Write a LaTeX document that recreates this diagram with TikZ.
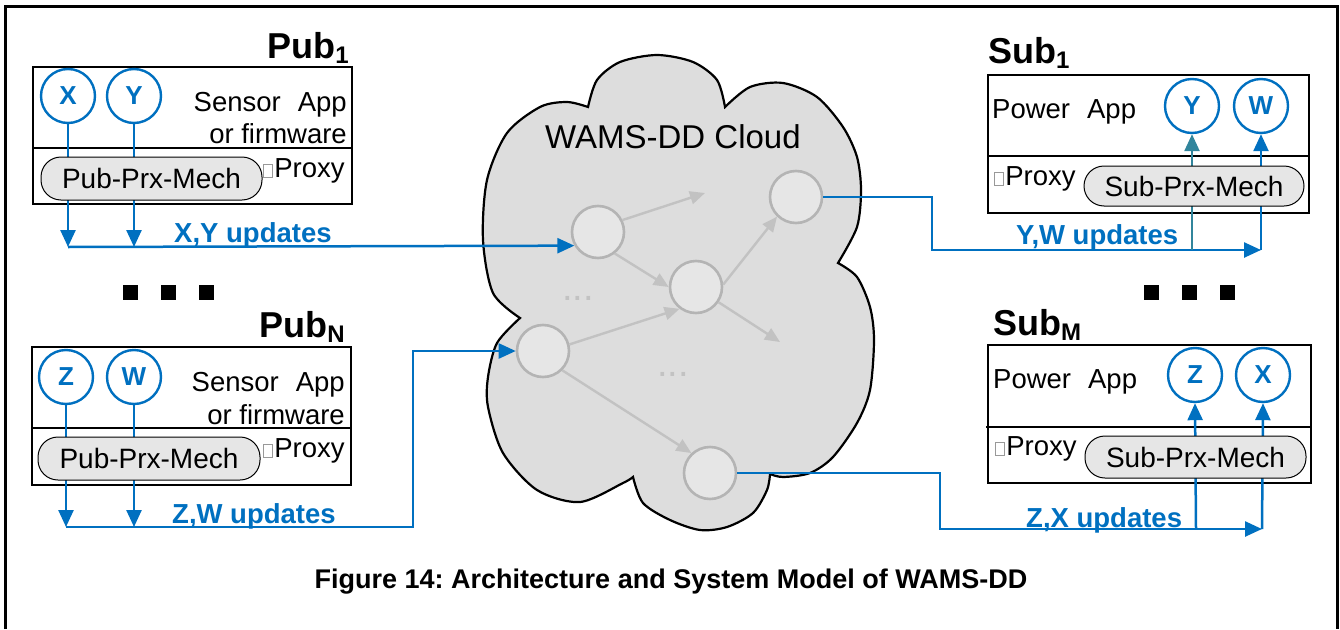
\documentclass[tikz,border=0pt]{standalone}
\usepackage{fontspec}
\setmainfont{Liberation Sans}
\usetikzlibrary{arrows.meta}
\frenchspacing

\definecolor{wblue}{HTML}{0070C0}
\definecolor{wteal}{HTML}{31859C}
\definecolor{cloudfill}{HTML}{DDDDDD}
\definecolor{nodefill}{HTML}{E6E6E6}
\definecolor{nodeline}{HTML}{B4B4B4}
\definecolor{edgegray}{HTML}{C2C2C2}
\definecolor{pillfill}{HTML}{E6E6E6}

\newcommand\fsz[1]{\fontsize{#1}{#1}\selectfont}
\newcommand\glyphbox{\textcolor{black!40}{\fboxsep=0pt\fboxrule=0.8pt\fbox{\rule{0pt}{12pt}\hspace{8pt}}}\hspace{1.5pt}}

\tikzset{
  frame/.style={line width=2.5pt},
  boxline/.style={draw=black, line width=2pt},
  pill/.style={draw=black, line width=1pt, fill=pillfill, rounded corners=20pt,
    inner sep=0pt, font=\fsz{28}},
  var/.style={circle, draw=wblue, line width=2.4pt, fill=white, minimum size=54pt,
    inner sep=0pt, font=\bfseries\fsz{26}, text=wblue},
  cnode/.style={circle, draw=nodeline, line width=2.6pt, fill=nodefill,
    minimum size=52pt, inner sep=0pt},
  garrow/.style={draw=edgegray, line width=2.4pt, -{Triangle[length=15pt,width=13pt]}},
  blueflow/.style={draw=wblue, line width=2.5pt},
  tealflow/.style={draw=wteal, line width=2.5pt},
  btip/.style={-{Triangle[length=17pt,width=15pt]}},
  txt/.style={font=\fsz{27.5}, inner sep=0pt},
  upd/.style={font=\bfseries\fsz{27.5}, text=wblue, inner sep=0pt},
  ttl/.style={font=\bfseries\fsz{36}, inner sep=0pt},
  dotsgray/.style={font=\fsz{38}, text=edgegray, inner sep=0pt},
  sq/.style={fill=black}
}

\begin{document}
\begin{tikzpicture}[x=1pt,y=-1pt]
\useasboundingbox (0,0) rectangle (1340,629);

% outer frame
\draw[frame] (5.5,629) -- (5.5,6.5) -- (1337.5,6.5) -- (1337.5,629);

% ---------------- cloud ----------------
\draw[fill=cloudfill, line width=2.2pt, line join=miter]
  plot[smooth] coordinates {(588,107) (597,80) (620,62) (657,55) (693,62) (717,80) (725,107)}
  -- plot[smooth] coordinates {(725,107) (750,87) (783,83) (817,97) (843,127) (857,157) (861,190) (857,227) (838,263)}
  -- plot[smooth] coordinates {(838,263) (857,277) (870,307) (874,340) (870,390) (857,423) (833,457) (810,473) (783,477) (770,474)}
  -- plot[smooth] coordinates {(770,474) (767,490) (753,513) (727,527) (700,530) (670,520) (643,503) (633,477)}
  -- plot[smooth] coordinates {(633,477) (623,483) (580,502) (537,490) (503,453) (488,407) (488,377) (497,343) (520,318)}
  -- plot[smooth] coordinates {(520,318) (493,293) (483,240) (487,180) (507,133) (540,107) (567,102) (588,107)}
  -- cycle;

\node[anchor=base west, font=\fsz{33}, inner sep=0pt] (cloudlabel) at (545,148) {WAMS-DD Cloud};

\node[cnode] (n1) at (598,232) {};
\node[cnode] (n2) at (796,197) {};
\node[cnode] (n3) at (696,287) {};
\node[cnode] (n4) at (543,351) {};
\node[cnode] (n5) at (710,473) {};
\coordinate (e1) at (705,193);
\coordinate (e2) at (780,342);

\draw[garrow] (n1.26) -- (e1);
\draw[garrow] (n1.-52) -- (n3.180);
\draw[garrow] (n3.5) -- (n2.226);
\draw[garrow] (n3.-34) -- (e2);
\draw[garrow] (n4.14) -- (n3.233);
\draw[garrow] (n4.-45) -- (n5.133);

\node[dotsgray, anchor=base] (d1) at (578,300) {...};
\node[dotsgray, anchor=base] (d2) at (673,376) {...};

% ---------------- Pub 1 ----------------
\draw[boxline] (33,67) rectangle (352,204);
\draw[boxline] (33,148) -- (352,148);
\node[var] (X1) at (68,96) {X};
\node[var] (Y1) at (134,96) {Y};
\coordinate (p1a) at (68,247);
\coordinate (p1b) at (134,247);
\draw[blueflow, btip] (X1.south) -- (p1a);
\draw[blueflow, btip] (Y1.south) -- (p1b);
\draw[blueflow, btip] (p1a) -- (n1.210);
\node[pill, minimum width=221pt, minimum height=43pt] (pm1) at (151.5,178.5) {Pub-Prx-Mech};
\node[txt, anchor=base east] (sa1) at (347,111) {Sensor\hspace{17pt}App};
\node[txt, anchor=base east] (fw1) at (347,143) {or firmware};
\node[txt, anchor=base west] (px1) at (263,177) {\glyphbox Proxy};
\node[ttl, anchor=base east] (pub1) at (349,58) {Pub\raisebox{-5pt}{\fsz{24}1}};
\node[upd, anchor=base west] (u1) at (174,242) {X,Y updates};

% ---------------- Pub N ----------------
\draw[boxline] (32,347) rectangle (351,485);
\draw[boxline] (32,428) -- (351,428);
\node[var] (ZN) at (66,377) {Z};
\node[var] (WN) at (134,377) {W};
\coordinate (pna) at (66,527);
\coordinate (pnb) at (134,527);
\coordinate (pnc) at (413,527);
\coordinate (pnd) at (413,351);
\draw[blueflow, btip] (ZN.south) -- (pna);
\draw[blueflow, btip] (WN.south) -- (pnb);
\draw[blueflow, btip] (pna) -- (pnc) -- (pnd) -- (n4.180);
\node[pill, minimum width=222pt, minimum height=43pt] (pmn) at (149,458.5) {Pub-Prx-Mech};
\node[txt, anchor=base east] (san) at (345,391) {Sensor\hspace{17pt}App};
\node[txt, anchor=base east] (fwn) at (345,424) {or firmware};
\node[txt, anchor=base west] (pxn) at (263,457) {\glyphbox Proxy};
\node[ttl, anchor=base east] (pubn) at (345,337) {Pub\raisebox{-5pt}{\fsz{24}N}};
\node[upd, anchor=base west] (un) at (172,523) {Z,W updates};

% ---------------- Sub 1 ----------------
\draw[boxline] (988,75) rectangle (1309,213);
\draw[boxline] (988,156) -- (1309,156);
\node[var] (Ys) at (1192,106) {Y};
\node[var] (Ws) at (1261,106) {W};
\coordinate (s1a) at (932,197);
\coordinate (s1b) at (932,250);
\coordinate (s1c) at (1261,250);
\coordinate (s1d) at (1192,250);
\draw[blueflow, btip] (n2.0) -- (s1a) -- (s1b) -- (s1c);
\draw[tealflow, btip] (s1d) -- (Ys.south);
\draw[blueflow, btip] (s1c) -- (Ws.south);
\node[pill, minimum width=220pt, minimum height=40pt] (ps1) at (1194,186) {Sub-Prx-Mech};
\node[txt, anchor=base west] (pa1) at (992,118) {Power\hspace{17pt}App};
\node[txt, anchor=base west] (pxs1) at (994,185) {\glyphbox Proxy};
\node[ttl, anchor=base west] (sub1) at (988,63) {Sub\raisebox{-5pt}{\fsz{24}1}};
\node[upd, anchor=base west] (us1) at (1016,244) {Y,W updates};

% ---------------- Sub M ----------------
\draw[boxline] (988,345) rectangle (1311,483);
\draw[boxline] (986,427) -- (1311,427);
\node[var] (Zs) at (1195,375) {Z};
\node[var] (Xs) at (1263,375) {X};
\coordinate (sma) at (940,473);
\coordinate (smb) at (940,529);
\coordinate (smc) at (1262,529);
\coordinate (smd) at (1196,529);
\draw[blueflow, btip] (n5.0) -- (sma) -- (smb) -- (smc);
\draw[blueflow, btip] (smd) -- (Zs.south);
\draw[blueflow, btip] (smc) -- (Xs.south);
\node[pill, minimum width=221pt, minimum height=42pt] (psm) at (1195.5,457) {Sub-Prx-Mech};
\node[txt, anchor=base west] (pam) at (993,388) {Power\hspace{17pt}App};
\node[txt, anchor=base west] (pxsm) at (995,455) {\glyphbox Proxy};
\node[ttl, anchor=base west] (subm) at (993,335) {Sub\raisebox{-5pt}{\fsz{24}M}};
\node[upd, anchor=base west] (usm) at (1026,527) {Z,X updates};

% ---------------- ellipsis squares ----------------
\fill[sq] (123,285) rectangle (138,300);
\fill[sq] (161,285) rectangle (176,300);
\fill[sq] (199,285) rectangle (214,300);
\fill[sq] (1144,285) rectangle (1159,300);
\fill[sq] (1182,285) rectangle (1197,300);
\fill[sq] (1220,285) rectangle (1235,300);

% ---------------- caption ----------------
\node[font=\bfseries\fsz{27}, anchor=base, inner sep=0pt] (caption) at (671,588)
  {Figure 14: Architecture and System Model of WAMS-DD};
\end{tikzpicture}
\end{document}
